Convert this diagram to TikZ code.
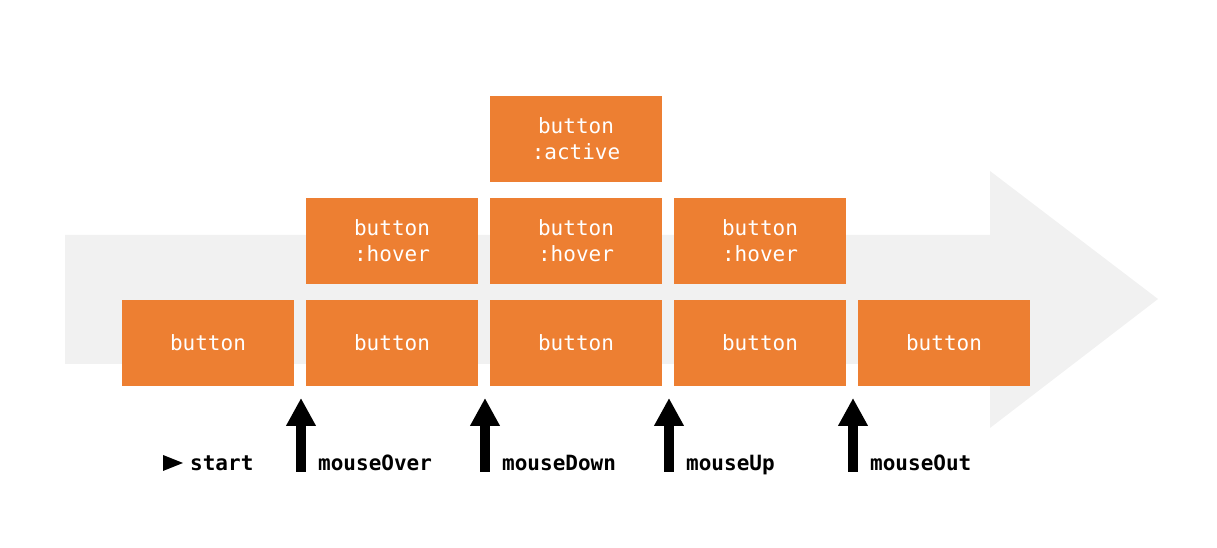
\documentclass[tikz,border=0pt]{standalone}
\usepackage{fontspec}
\setmonofont{DejaVu Sans Mono}
\usetikzlibrary{arrows.meta,positioning}
\definecolor{btnorange}{HTML}{ED7F32}
\definecolor{flowgray}{HTML}{F1F1F1}

\begin{document}
\begin{tikzpicture}[x=1pt,y=1pt,
  node distance=16pt and 12pt,
  btn/.style={fill=btnorange,text=white,align=center,inner sep=0pt,
    outer sep=0pt,minimum width=172pt,minimum height=86pt,
    font=\fontsize{21}{26}\selectfont\ttfamily},
  lbl/.style={anchor=base west,inner sep=0pt,
    font=\fontsize{21}{26}\selectfont\ttfamily\bfseries},
  up/.style={line width=10pt,-{Triangle[width=28pt,length=28pt]}}]
\useasboundingbox (0,0) rectangle (1217,548);
% flow arrow behind the buttons
\fill[flowgray] (65,184) -- (65,313) -- (990,313) -- (990,377)
  -- (1158,249) -- (990,120) -- (990,184) -- cycle;
% states
\node[btn] (b1) at (208,205) {button};
\node[btn,right=of b1] (b2) {button};
\node[btn,right=of b2] (b3) {button};
\node[btn,right=of b3] (b4) {button};
\node[btn,right=of b4] (b5) {button};
\node[btn,above=of b2] (h2) {button\\:hover};
\node[btn,above=of b3] (h3) {button\\:hover};
\node[btn,above=of b4] (h4) {button\\:hover};
\node[btn,above=of h3] (a3) {button\\:active};
% events
\fill (163,93) -- (183,85) -- (163,77) -- cycle;
\node[lbl] (start) at (190,77) {start};
\node[lbl] (over) at (318,77) {mouseOver};
\node[lbl] (down) at (502,77) {mouseDown};
\node[lbl] (upev) at (686,77) {mouseUp};
\node[lbl] (out) at (870,77) {mouseOut};
\coordinate (e1) at (301,76);
\coordinate (e2) at (485,76);
\coordinate (e3) at (669,76);
\coordinate (e4) at (853,76);
\draw[up] (e1) -- ([yshift=-12pt]b1.south east -| e1);
\draw[up] (e2) -- ([yshift=-12pt]b2.south east -| e2);
\draw[up] (e3) -- ([yshift=-12pt]b3.south east -| e3);
\draw[up] (e4) -- ([yshift=-12pt]b4.south east -| e4);
\end{tikzpicture}
\end{document}
